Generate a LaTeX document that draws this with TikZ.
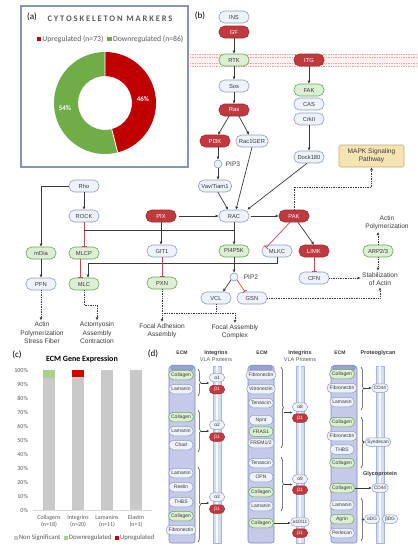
\documentclass[tikz,border=0pt]{standalone}
\usepackage{fontspec}
\setmainfont{Liberation Sans}
\newfontfamily\calib{Carlito}
\usetikzlibrary{arrows.meta,decorations.pathreplacing}
\definecolor{bfill}{HTML}{EEF2FA}
\definecolor{bdraw}{HTML}{8C9CC6}
\definecolor{rfill}{HTML}{C0393F}
\definecolor{rdraw}{HTML}{9E2A2F}
\definecolor{gfill}{HTML}{DCEFD4}
\definecolor{gdraw}{HTML}{69A357}
\definecolor{txt}{HTML}{3A3A3A}
\definecolor{inh}{HTML}{C8474D}
\definecolor{xred}{HTML}{C00000}
\definecolor{xgreen}{HTML}{70AD47}
\definecolor{xgray}{HTML}{595959}
\definecolor{cgray}{HTML}{C9C9C9}
\definecolor{cgreen}{HTML}{A9D18E}
\definecolor{cred}{HTML}{D40000}
\definecolor{caxis}{HTML}{D9D9D9}
\definecolor{frame}{HTML}{8497B0}
\definecolor{mapkf}{HTML}{F6E3B4}
\definecolor{mapkd}{HTML}{C9A96B}
\definecolor{memc}{HTML}{F0A4A4}
\definecolor{pilf}{HTML}{C4CAE8}
\definecolor{pild}{HTML}{7D88BE}
\definecolor{intf}{HTML}{D4DCF2}
\definecolor{intd}{HTML}{A7B4DC}
\tikzset{
  pill/.style={rounded corners=5.5pt, minimum height=12pt, minimum width=30pt, inner xsep=3pt, inner ysep=0pt, font=\fontsize{5.8}{6}\selectfont, line width=0.6pt},
  bn/.style={pill, fill=bfill, draw=bdraw, text=txt},
  rn/.style={pill, fill=rfill, draw=rdraw, text=white},
  gn/.style={pill, fill=gfill, draw=gdraw, text=txt},
  dp/.style={rounded corners=4.5pt, minimum height=9.5pt, minimum width=24pt, inner xsep=2.5pt, inner ysep=0pt, font=\fontsize{5}{5.5}\selectfont, line width=0.5pt},
  db/.style={dp, fill=bfill, draw=bdraw, text=txt},
  dg/.style={dp, fill=gfill, draw=gdraw, text=txt},
  sp/.style={rounded corners=4pt, minimum height=8.5pt, minimum width=15pt, inner xsep=2pt, inner ysep=0pt, font=\fontsize{4.8}{5}\selectfont, line width=0.5pt},
  sb/.style={sp, fill=bfill, draw=bdraw, text=txt},
  sr/.style={sp, fill=rfill, draw=rdraw, text=white},
  arr/.style={draw=txt, line width=0.7pt, -{Latex[length=3pt,width=3pt]}},
  darr/.style={draw=txt, line width=0.5pt, -{Latex[length=2.5pt,width=2.5pt]}},
  ln/.style={draw=txt, line width=0.7pt},
  inhib/.style={draw=inh, line width=0.7pt, -{Bar[width=5pt,line width=0.8pt]}},
  dot/.style={draw=txt, line width=0.7pt, densely dotted, -{Latex[length=3pt,width=3pt]}},
  dotl/.style={draw=txt, line width=0.7pt, densely dotted},
  lab/.style={align=center, font=\fontsize{6.6}{8.5}\selectfont, text=txt, inner sep=1.5pt},
  brc/.style={draw=txt, line width=0.5pt, decorate, decoration={brace, amplitude=2.5pt}},
  hdr/.style={font=\bfseries\fontsize{5}{6}\selectfont, text=txt, inner sep=0pt},
  ylab/.style={anchor=east, font=\calib\fontsize{6}{7}\selectfont, text=xgray, inner sep=0pt},
  clab/.style={align=center, font=\calib\fontsize{6}{7}\selectfont, text=xgray, inner sep=0pt},
  plab/.style={font=\calib\fontsize{9}{10}\selectfont, text=black, inner sep=0pt},
}
\begin{document}
\begin{tikzpicture}[x=1pt,y=-1pt]
\fill[white] (0,0) rectangle (418,550);
\useasboundingbox (0,0) rectangle (418,550);

% ---------------- (a) ----------------
\draw[frame, line width=2.5pt] (21,6) rectangle (188,167);
\node[plab] (pa) at (32,17) {(a)};
\node[font=\calib\bfseries\fontsize{8.5}{8.5}\selectfont, text=xgray, inner sep=0pt] (ta) at (110,19) {\addfontfeature{LetterSpace=22}CYTOSKELETON MARKERS};
\node[font=\calib\fontsize{7.7}{8}\selectfont, text=xgray, inner sep=0pt] (lega) at (110,39) {\textcolor{xred}{\rule{4.5pt}{4.5pt}}\,Upregulated (n=73)\enspace\textcolor{xgreen}{\rule{4.5pt}{4.5pt}}\,Downregulated (n=86)};
\begin{scope}[shift={(105,103)},y=1pt]
  \fill[xred] (90:51) arc[start angle=90,end angle=-75.6,radius=51] -- (-75.6:27) arc[start angle=-75.6,end angle=90,radius=27] -- cycle;
  \fill[xgreen] (-75.6:51) arc[start angle=-75.6,end angle=-270,radius=51] -- (90:27) arc[start angle=90,end angle=284.4,radius=27] -- cycle;
  \draw[white,line width=0.8pt] (90:27) -- (90:51) (-75.6:27) -- (-75.6:51);
\end{scope}
\node[font=\calib\bfseries\fontsize{7}{7}\selectfont, text=white] (p46) at (143,99) {46\%};
\node[font=\calib\bfseries\fontsize{7}{7}\selectfont, text=white] (p54) at (65,108) {54\%};

% ---------------- (b) ----------------
\node[plab] (pb) at (200,16) {(b)};
\fill[memc!15] (190,54) rectangle (418,66);
\foreach \yy in {54.5,57,63.5,66} \draw[memc, densely dotted, line width=0.7pt] (190,\yy) -- (418,\yy);

\node[bn] (INS) at (234,17) {INS};
\node[rn] (GF) at (234,32) {GF};
\node[gn] (RTK) at (234,60) {RTK};
\node[rn] (ITG) at (309,60) {ITG};
\node[bn] (Sos) at (234,86) {Sos};
\node[gn] (FAK) at (309,90) {FAK};
\node[bn] (CAS) at (309,104) {CAS};
\node[bn] (CrkII) at (309,119) {CrkII};
\node[rn] (Ras) at (234,110) {Ras};
\node[rn] (PI3K) at (215,141) {PI3K};
\node[bn] (Rac1GER) at (252,141) {Rac1GER};
\node[circle, draw=bdraw, fill=bfill, line width=0.6pt, minimum size=8pt, inner sep=0pt] (PIP3) at (218,164) {};
\node[lab] (PIP3l) at (233,164) {PIP3};
\node[bn] (Vav) at (215,186) {Vav/Tiam1};
\node[bn] (Dock) at (309,157) {Dock180};
\node[draw=mapkd, fill=mapkf, line width=0.6pt, rounded corners=1.5pt, minimum width=65pt, minimum height=22pt, align=center, font=\fontsize{6.6}{8}\selectfont, text=txt, inner sep=0pt] (MAPK) at (371.5,156) {MAPK Signaling\\Pathway};
\node[bn] (Rho) at (84,186) {Rho};
\node[bn] (ROCK) at (84,216) {ROCK};
\node[rn] (PIX) at (161,216) {PIX};
\node[bn] (RAC) at (234,216) {RAC};
\node[rn] (PAK) at (294,216) {PAK};
\node[gn] (mDia) at (41,253) {mDia};
\node[gn] (MLCP) at (84,253) {MLCP};
\node[bn] (GIT1) at (162,251) {GIT1};
\node[gn] (PI4P5K) at (234,251) {PI4P5K};
\node[bn] (MLKC) at (277,251) {MLKC};
\node[rn] (LIMK) at (314,251) {LIMK};
\node[gn] (ARP) at (378,251) {ARP2/3};
\node[bn] (PFN) at (41,284) {PFN};
\node[gn] (MLC) at (84,284) {MLC};
\node[gn] (PXN) at (162,283) {PXN};
\node[circle, draw=bdraw, fill=bfill, line width=0.6pt, minimum size=8pt, inner sep=0pt] (PIP2) at (234,277) {};
\node[lab] (PIP2l) at (251,277) {PIP2};
\node[bn] (CFN) at (314,278) {CFN};
\node[bn] (VCL) at (216,298) {VCL};
\node[bn] (GSN) at (252,298) {GSN};

\node[lab] (ActPol) at (387,223) {Actin\\Polymerization};
\node[lab] (Stab) at (380,279) {Stabilization\\of Actin};
\node[lab] (APSF) at (42,333) {Actin\\Polymerization\\Stress Fiber};
\node[lab] (AAC) at (97,333) {Actomyosin\\Assembly\\Contraction};
\node[lab] (FAA) at (162,331) {Focal Adhesion\\Assembly};
\node[lab] (FAC) at (235,332) {Focal Assembly\\Complex};

\draw[arr] (GF) -- (RTK);
\draw[arr] (RTK) -- (Sos);
\draw[arr] (Sos) -- (Ras);
\draw[arr] ([xshift=-5pt]Ras.south) -- ([xshift=3pt]PI3K.north);
\draw[arr] ([xshift=5pt]Ras.south) -- ([xshift=-3pt]Rac1GER.north);
\draw[arr] (PI3K.south -| PIP3) -- (PIP3);
\draw[arr] (PIP3) -- (PIP3 |- Vav.north);
\draw[arr] ([xshift=3pt]Vav.south) -- ([xshift=-6pt]RAC.north);
\draw[arr] (Rac1GER.south) -- ([xshift=2pt]RAC.north);
\draw[arr] ([xshift=-2pt]Dock.south) -- ([xshift=-2pt]RAC.north east);
\draw[arr] (ITG) -- (FAK);
\draw[arr] (CrkII) -- (Dock);
\draw[arr] ([xshift=3pt]PIX.east) -- (RAC.west);
\draw[arr] ([xshift=2pt]RAC.east) -- (PAK.west);
\draw[inhib] ([xshift=-4pt]PAK.south) -- ([xshift=-11pt,yshift=-3pt]MLKC.north);
\draw[arr] ([xshift=4pt]PAK.south) -- (LIMK.north);
\draw[inhib] (LIMK) -- (CFN);
\coordinate (pakm) at (371.5,187);
\draw[dot] (PAK.north) |- (pakm) -- (MAPK.south);
\draw[dot] (ARP.north) -- (ARP.north |- ActPol.south);
\draw[dot] (ARP.south) -- (ARP.south |- Stab.north);
\draw[dot] (CFN.east) -- (CFN.east -| Stab.west);
\draw[dot] (GSN.east) -| (Stab.south);

\draw[arr] (Rho.west) -| (mDia.north);
\draw[arr] (Rho) -- (ROCK);
\draw[inhib] (ROCK) -- (MLCP);
\coordinate (j1) at (84,230);
\draw[ln] (j1) -- (j1 -| RAC.south);
\draw[arr] (RAC) -- (PI4P5K);
\coordinate (j2) at (88,263);
\draw[arr] (MLKC.south) |- (j2) -- (j2 |- MLC.north);
\draw[inhib] ([xshift=-4pt]MLCP.south) -- ([xshift=-4pt]MLC.north);
\draw[arr] (mDia) -- (PFN);
\draw[arr] (PIX.south) -- (PIX.south |- GIT1.north);
\draw[inhib] (GIT1) -- (PXN);
\draw[arr] (PI4P5K) -- (PIP2);
\draw[arr] (PIP2.south west) -- ([xshift=7pt]VCL.north);
\draw[inhib] (PIP2.south east) -- ([xshift=-7pt]GSN.north);

\draw[dot] (PFN.south) -- (PFN.south |- APSF.north);
\coordinate (j3) at (97,305);
\draw[dot] (MLC.south) |- (j3) -- (j3 |- AAC.north);
\draw[dot] (PXN.south) -- (PXN.south |- FAA.north);
\coordinate (j4) at (216,313);
\coordinate (j5) at (162,313);
\draw[dotl] (VCL.south) -- (j4);
\draw[dot] (j5) -| (FAC.north);

% ---------------- (c) ----------------
\node[plab] (pc) at (17,355) {(c)};
\node[font=\calib\bfseries\fontsize{8}{9}\selectfont, text=black, inner sep=0pt] (tc) at (82,359) {ECM Gene Expression};
\foreach \v in {0,10,...,100} \node[ylab] at (28,{510-1.4*\v}) {\v\%};
\draw[caxis, line width=0.6pt] (33,510) -- (152,510);
\fill[cgray] (43,510) rectangle (55,377.8);
\fill[cgreen] (43,377.8) rectangle (55,370);
\fill[cgray] (72,510) rectangle (84,377);
\fill[cred] (72,377) rectangle (84,370);
\fill[cgray] (101,510) rectangle (113,370);
\fill[cgray] (130,510) rectangle (142,370);
\node[clab] (cl1) at (49,521.5) {Collagens\\(n=18)};
\node[clab] (cl2) at (78,521.5) {Integrins\\(n=20)};
\node[clab] (cl3) at (107,521.5) {Lamanins\\(n=11)};
\node[clab] (cl4) at (136,521.5) {Elastin\\(n=1)};
\node[clab, font=\calib\fontsize{6.8}{7}\selectfont] (legc) at (84,538) {\textcolor{cgray}{\rule{4pt}{4pt}}\,Non Significant\enspace\textcolor{cgreen}{\rule{4pt}{4pt}}\,Downregulated\enspace\textcolor{cred}{\rule{4pt}{4pt}}\,Upregulated};

% ---------------- (d) ----------------
\node[plab] (pd) at (153,354) {(d)};
\node[hdr] (h1) at (182,353) {ECM};
\node[hdr, font=\bfseries\fontsize{5.5}{6}\selectfont] (h2) at (216,353) {Integrins};
\node[text=xgray, inner sep=0pt, font=\fontsize{5.5}{6}\selectfont] (h3) at (216,360) {VLA Proteins};
\node[hdr] (h4) at (262,353) {ECM};
\node[hdr, font=\bfseries\fontsize{5.5}{6}\selectfont] (h5) at (300,353) {Integrins};
\node[text=xgray, inner sep=0pt, font=\fontsize{5.5}{6}\selectfont] (h6) at (300,360) {VLA Proteins};
\node[hdr] (h7) at (340,353) {ECM};
\node[hdr, font=\bfseries\fontsize{5.5}{6}\selectfont] (h8) at (378,353) {Proteoglycan};

\foreach \cx in {182,261,344} {
  \draw[fill=pilf, draw=pild, line width=0.6pt, rounded corners=2.5pt] (\cx-13,366) rectangle (\cx+13,543);
  \draw[fill=pild!60!pilf, draw=pild, line width=0.5pt, rounded corners=1.5pt] (\cx-11,365) rectangle (\cx+11,370);
}
\foreach \cx in {217,300,380} {
  \draw[fill=intf, draw=intd, line width=0.5pt] (\cx-4,366) rectangle (\cx+4,543);
  \draw[white!80!intf, line width=1.6pt] (\cx,366) -- (\cx,543);
}

\node[dg] (e1) at (181,375) {Collagen};
\node[db] (e2) at (181,389) {Lamanin};
\node[dg] (e3) at (181,417) {Collagen};
\node[db] (e4) at (181,431) {Lamanin};
\node[db] (e5) at (181,445) {Chad};
\node[db] (e6) at (181,473) {Lamanin};
\node[db] (e7) at (181,487) {Reelin};
\node[db] (e8) at (181,502) {THBS};
\node[dg] (e9) at (181,516) {Collagen};
\node[db] (e10) at (181,530) {Fibronectin};

\node[sb] (a1) at (217,377.5) {α1};
\node[sr] (b1) at (217,389.5) {β1};
\node[sb] (a2) at (217,425) {α2};
\node[sr] (b2) at (217,437) {β1};
\node[sb] (a3) at (217,497) {α3};
\node[sr] (b3) at (217,509) {β1};

\draw[brc] (198,369) -- (198,396);
\draw[brc] (198,410) -- (198,452);
\draw[brc] (198,467) -- (198,542);
\coordinate (t1) at (201,383);
\coordinate (t2) at (201,431);
\coordinate (t3) at (201,503);
\draw[darr] (t1) -- (t1 -| a1.west);
\draw[darr] (t2) -- (t2 -| a2.west);
\draw[darr] (t3) -- (t3 -| a3.west);

\node[db] (f1) at (261,375) {Fibronectin};
\node[db] (f2) at (261,389) {Vitronectin};
\node[db] (f3) at (261,403) {Tenascin};
\node[db] (f4) at (261,420) {Npnt};
\node[dg] (f5) at (261,431.5) {FRAS1};
\node[db] (f6) at (261,443) {FREM1/2};
\node[db] (f7) at (261,463) {Tenascin};
\node[db] (f8) at (261,477) {OPN};
\node[dg] (f9) at (261,492) {Collagen};
\node[db] (f10) at (261,506) {Lamanin};
\node[dg] (f11) at (261,523) {Collagen};

\node[sb] (a8) at (300,407) {α8};
\node[sr] (b8) at (300,418) {β1};
\node[sb] (a9) at (300,479) {α9};
\node[sr] (b9) at (300,490) {β1};
\node[sb] (a10) at (300,522) {α10/11};
\node[sr] (b10) at (300,533) {β1};

\draw[brc] (281,367) -- (281,448);
\draw[brc] (281,457) -- (281,511);
\coordinate (t4) at (284,412.5);
\coordinate (t5) at (284,484.5);
\draw[darr] (t4) -- (t4 -| a8.west);
\draw[darr] (t5) -- (t5 -| a9.west);
\draw[darr] (f11.east) -- (f11.east -| a10.west);

\node[dg] (g1) at (342,374) {Collagen};
\node[db] (g2) at (342,388) {Fibronectin};
\node[db] (g3) at (342,402) {Lamanin};
\node[dg] (g4) at (342,422) {Collagen};
\node[db] (g5) at (342,436) {Fibronectin};
\node[db] (g6) at (342,449.5) {THBS};
\node[dg] (g7) at (342,463) {Collagen};
\node[dg] (g8) at (342,488) {Collagen};
\node[db] (g9) at (342,505) {Lamanin};
\node[dg] (g10) at (342,519) {Agrin};
\node[db] (g11) at (342,533) {Perlecan};

\node[sb] (cd1) at (380,388) {CD44};
\node[sb] (syn) at (378,442) {Syndecan};
\node[hdr, font=\bfseries\fontsize{5.5}{6}\selectfont] (glyc) at (380,474) {Glycoprotein};
\node[sb] (cd2) at (380,488) {CD44};
\node[sb] (adg) at (372,519) {αDG};
\node[sb] (bdg) at (390,519) {βDG};

\draw[brc] (361,367) -- (361,410);
\draw[brc] (361,417) -- (361,468);
\draw[brc] (361,498) -- (361,541);
\coordinate (t6) at (364,388);
\coordinate (t7) at (364,442);
\coordinate (t8) at (364,519.5);
\draw[darr] (t6) -- (t6 -| cd1.west);
\draw[darr] (t7) -- (t7 -| syn.west);
\draw[darr] (g8.east) -- (g8.east -| cd2.west);
\draw[darr] (t8) -- (t8 -| adg.west);
\end{tikzpicture}
\end{document}
